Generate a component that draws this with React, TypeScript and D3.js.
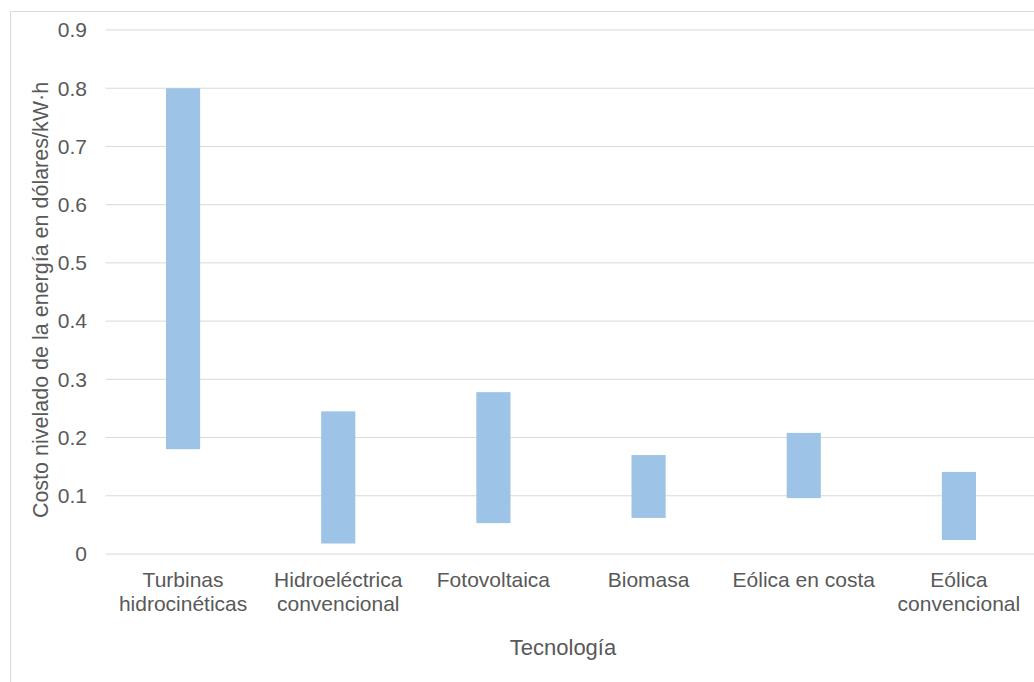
import React from "react";
import * as d3 from "d3";

const categories: string[][] = [
  ["Turbinas", "hidrocinéticas"],
  ["Hidroeléctrica", "convencional"],
  ["Fotovoltaica"],
  ["Biomasa"],
  ["Eólica en costa"],
  ["Eólica", "convencional"],
];
const lowValues = [0.18, 0.018, 0.053, 0.062, 0.096, 0.024];
const highValues = [0.8, 0.245, 0.278, 0.17, 0.208, 0.141];
const yTicks = [0, 0.1, 0.2, 0.3, 0.4, 0.5, 0.6, 0.7, 0.8, 0.9];
const yTitle = "Costo nivelado de la energía en dólares/kW·h";
const xTitle = "Tecnología";

export default function App() {
  const W = 1034, H = 682;
  const left = 105.5, right = 1036.5, top = 30, bottom = 554;
  const x = d3.scaleBand<number>().domain(d3.range(categories.length)).range([left, right]).paddingInner(0.78).paddingOuter(0.39);
  const y = d3.scaleLinear().domain([0, 0.9]).range([bottom, top]);
  const font = "'Liberation Sans', Arial, sans-serif";
  const tc = "#595959";
  return (
    <svg width={W} height={H} style={{ position: "absolute", left: 0, top: 0 }} fontFamily={font}>
      <rect x={0} y={0} width={W} height={H} fill="#fff" />
      <rect x={10.5} y={11.5} width={W + 20} height={H + 20} fill="#fff" stroke="#d9d9d9" strokeWidth={1} />
      {yTicks.map((t) => (
        <g key={t}>
          <line x1={left} x2={W} y1={y(t)} y2={y(t)} stroke="#d9d9d9" strokeWidth={1} />
          <text x={87} y={y(t)} dy="0.35em" textAnchor="end" fontSize={21} fill={tc}>{t === 0 ? "0" : t.toFixed(1)}</text>
        </g>
      ))}
      {categories.map((c, i) => (
        <rect key={i} x={x(i)} width={x.bandwidth()} y={y(highValues[i])} height={y(lowValues[i]) - y(highValues[i])} fill="#9DC3E6" />
      ))}
      {categories.map((c, i) => (
        <text key={"l" + i} x={(x(i) as number) + x.bandwidth() / 2} y={587} textAnchor="middle" fontSize={21} fill={tc}>
          {c.map((line, j) => (
            <tspan key={j} x={(x(i) as number) + x.bandwidth() / 2} dy={j === 0 ? 0 : 24}>{line}</tspan>
          ))}
        </text>
      ))}
      <text x={563} y={655} textAnchor="middle" fontSize={22} fill={tc}>{xTitle}</text>
      <text transform={`translate(48,${(top + bottom) / 2 + 8}) rotate(-90)`} textAnchor="middle" fontSize={21.5} fill={tc}>{yTitle}</text>
    </svg>
  );
}
